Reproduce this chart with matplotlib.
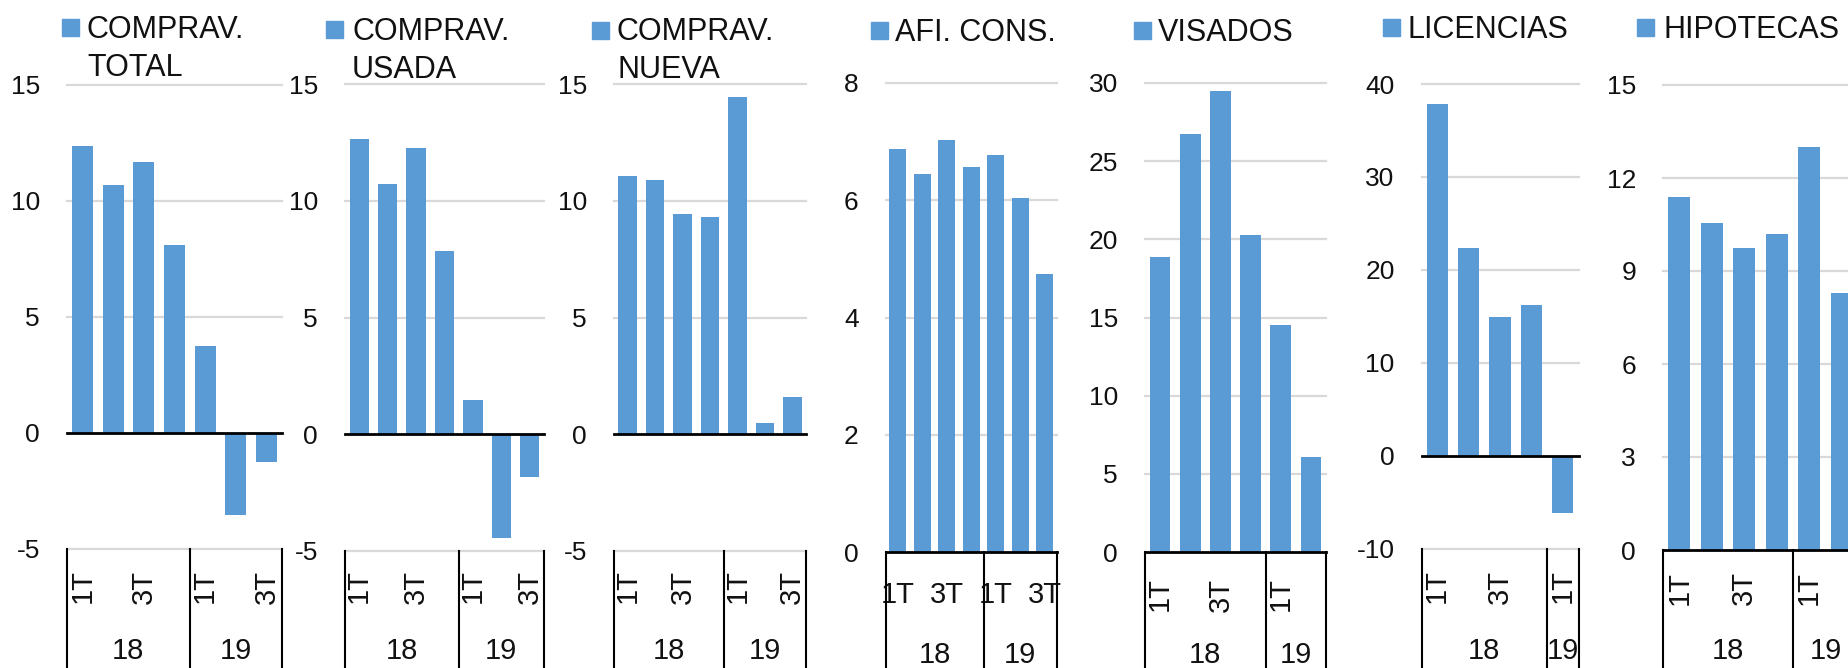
import matplotlib.pyplot as plt
from matplotlib.lines import Line2D
from matplotlib.patches import Rectangle
from matplotlib import transforms

plt.rcParams['font.family'] = ['Liberation Sans', 'DejaVu Sans']
plt.rcParams['axes.unicode_minus'] = False

# quarterly series, 2018 Q1 onwards (% change)
quarters = ['1T', '2T', '3T', '4T', '1T', '2T', '3T']
years = ['18', '19']

comprav_total = [12.35, 10.7, 11.7, 8.1, 3.75, -3.55, -1.25]
comprav_usada = [12.65, 10.7, 12.25, 7.85, 1.45, -4.45, -1.85]
comprav_nueva = [11.05, 10.9, 9.45, 9.3, 14.45, 0.5, 1.6]
afi_cons = [6.88, 6.45, 7.02, 6.57, 6.77, 6.03, 4.75]
visados = [18.9, 26.75, 29.5, 20.3, 14.5, 6.1]
licencias = [37.9, 22.3, 14.9, 16.2, -6.2]
hipotecas = [11.4, 10.55, 9.75, 10.2, 13.0, 8.3]

names = [['COMPRAV.', 'TOTAL'], ['COMPRAV.', 'USADA'], ['COMPRAV.', 'NUEVA'],
         ['AFI. CONS.'], ['VISADOS'], ['LICENCIAS'], ['HIPOTECAS']]
series = [comprav_total, comprav_usada, comprav_nueva, afi_cons,
          visados, licencias, hipotecas]
yticks = [range(-5, 16, 5), range(-5, 16, 5), range(-5, 16, 5), range(0, 9, 2),
          range(0, 31, 5), range(-10, 41, 10), range(0, 16, 3)]

# layout in pixels: left, right, top, bottom, legend square x, legend text x,
# legend baseline, rotated quarter labels, quarter label y, year baseline
layout = [
    (67, 282, 85, 549, 62, 87, 38, True, 586.5, 659),
    (345, 544, 84, 551, 326, 352, 40, True, 586.5, 659),
    (614, 806, 84, 551, 592, 617, 40.5, True, 586.5, 659),
    (885.5, 1057, 83, 552, 871, 895, 41, False, 603, 663),
    (1145, 1326, 83, 552, 1134, 1158, 41, True, 594.5, 663),
    (1421.5, 1578.5, 84, 548.5, 1383, 1408, 37.5, True, 586.5, 659),
    (1663, 1858, 85, 550, 1637, 1663, 38, True, 588, 659),
]

W, H = 1848, 668
BLUE = '#5B9BD5'
GRID = '#D9D9D9'
INK = '#111111'

fig = plt.figure(figsize=(W / 100, H / 100), dpi=100)


def fy(py):
    return 1 - py / H


for vals, name, ticks, lay in zip(series, names, yticks, layout):
    left, right, top, bottom, sq_x, txt_x, base, rot, q_y, yr_y = lay
    n = len(vals)
    ax = fig.add_axes([left / W, fy(bottom), (right - left) / W, (bottom - top) / H])
    ax.bar(range(n), vals, width=0.68, color=BLUE, zorder=2)
    ax.set_xlim(-0.5, n - 0.5)
    ax.set_ylim(ticks[0], ticks[-1])
    ax.set_yticks(list(ticks))
    for t in ticks:
        if t == 0:
            ax.axhline(0, color='black', lw=2, zorder=3, clip_on=False)
        else:
            ax.axhline(t, color=GRID, lw=1.6, zorder=1, clip_on=False)
    for sp in ax.spines.values():
        sp.set_visible(False)
    ax.set_xticks([])
    ax.tick_params(axis='y', length=0, pad=19.4, labelsize=19, labelcolor=INK)

    # two-level category axis below the plot
    tr = transforms.blended_transform_factory(ax.transData, fig.transFigure)
    for xb in [-0.5, 3.5, n - 0.5]:
        fig.add_artist(Line2D([xb, xb], [fy(bottom), 0], transform=tr,
                              color='black', lw=1.5))
    for i in range(0, n, 2):
        if rot:
            ax.text(i, fy(q_y), quarters[i], transform=tr, rotation=90,
                    ha='center', va='center', fontsize=21, color=INK,
                    clip_on=False)
        else:
            ax.text(i, fy(q_y), quarters[i], transform=tr, ha='center',
                    va='baseline', fontsize=21, color=INK, clip_on=False)
    ax.text(1.5, fy(yr_y), years[0], transform=tr, ha='center', va='baseline',
            fontsize=21, color=INK, clip_on=False)
    ax.text((4 + n - 1) / 2, fy(yr_y), years[1], transform=tr, ha='center',
            va='baseline', fontsize=21, color=INK, clip_on=False)

    # legend entry
    fig.add_artist(Rectangle((sq_x / W, fy(base - 2)), 17 / W, 17 / H,
                             transform=fig.transFigure, color=BLUE))
    for k, line in enumerate(name):
        fig.text(txt_x / W, fy(base + 38 * k), line, fontsize=22,
                 color=INK, ha='left', va='baseline')

fig.savefig('out.png', dpi=100)
